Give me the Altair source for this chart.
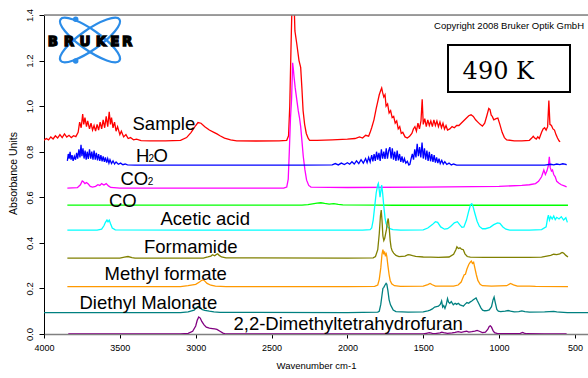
import altair as alt
import pandas as pd

# ---------------------------------------------------------------------------
# IR absorbance spectra (wavenumber cm-1, absorbance units), stacked with offsets
# ---------------------------------------------------------------------------
SAMPLE = [
    (4000, 0.850), (3985, 0.858), (3970, 0.852), (3955, 0.865), (3940, 0.856), (3925, 0.870),
    (3910, 0.860), (3895, 0.875), (3880, 0.862), (3865, 0.878), (3850, 0.864), (3835, 0.872),
    (3820, 0.862), (3805, 0.870), (3790, 0.866), (3775, 0.885), (3765, 0.930), (3755, 0.905),
    (3745, 0.965), (3738, 0.920), (3730, 0.950), (3720, 0.910), (3712, 0.935), (3700, 0.900),
    (3690, 0.925), (3680, 0.895), (3670, 0.915), (3660, 0.890), (3650, 0.920), (3640, 0.895),
    (3630, 0.930), (3620, 0.900), (3610, 0.940), (3600, 0.905), (3590, 0.955), (3580, 0.910),
    (3570, 0.975), (3562, 0.920), (3555, 0.950), (3545, 0.905), (3535, 0.930), (3525, 0.890),
    (3515, 0.910), (3500, 0.875), (3490, 0.890), (3475, 0.865), (3460, 0.875), (3445, 0.858),
    (3430, 0.862), (3410, 0.852), (3390, 0.855), (3360, 0.849), (3300, 0.848), (3200, 0.848),
    (3100, 0.850), (3060, 0.862), (3030, 0.885), (3000, 0.915), (2985, 0.928), (2965, 0.925),
    (2940, 0.910), (2910, 0.895), (2880, 0.885), (2860, 0.878), (2840, 0.870), (2810, 0.860),
    (2770, 0.852), (2730, 0.848), (2600, 0.847), (2450, 0.848), (2400, 0.850), (2388, 0.870),
    (2380, 1.000), (2372, 1.250), (2365, 1.450), (2358, 1.520), (2350, 1.420), (2346, 1.330),
    (2334, 1.275), (2319, 1.200), (2308, 1.170), (2300, 1.080), (2292, 0.980), (2282, 0.920),
    (2271, 0.880), (2258, 0.858), (2249, 0.850), (2200, 0.850), (2100, 0.852), (2000, 0.855),
    (1950, 0.858), (1920, 0.865), (1900, 0.860), (1880, 0.872), (1860, 0.868), (1850, 0.885),
    (1840, 0.905), (1825, 0.940), (1810, 0.990), (1800, 1.020), (1790, 1.050), (1780, 1.070),
    (1774, 1.080), (1768, 1.060), (1760, 1.040), (1752, 1.050), (1745, 1.000), (1735, 1.010),
    (1725, 0.970), (1715, 0.980), (1705, 0.950), (1695, 0.955), (1685, 0.925), (1675, 0.935),
    (1665, 0.900), (1655, 0.910), (1645, 0.880), (1635, 0.885), (1620, 0.865), (1605, 0.860),
    (1590, 0.868), (1575, 0.880), (1565, 0.900), (1555, 0.910), (1545, 0.890), (1535, 0.925),
    (1525, 0.900), (1515, 0.935), (1507, 1.030), (1500, 0.920), (1490, 0.945), (1480, 0.910),
    (1470, 0.940), (1460, 0.915), (1450, 0.935), (1440, 0.910), (1430, 0.940), (1420, 0.915),
    (1410, 0.935), (1400, 0.910), (1390, 0.930), (1380, 0.905), (1370, 0.925), (1360, 0.900),
    (1350, 0.915), (1340, 0.895), (1325, 0.900), (1310, 0.910), (1295, 0.905), (1280, 0.915),
    (1265, 0.915), (1250, 0.925), (1235, 0.935), (1220, 0.945), (1200, 0.958), (1185, 0.962),
    (1170, 0.955), (1155, 0.940), (1140, 0.930), (1125, 0.920), (1110, 0.912), (1095, 0.925),
    (1080, 0.960), (1068, 0.990), (1060, 0.985), (1052, 0.960), (1045, 0.955), (1035, 0.940),
    (1020, 0.945), (1008, 0.948), (995, 0.920), (980, 0.885), (965, 0.862), (950, 0.852),
    (900, 0.848), (850, 0.848), (800, 0.850), (785, 0.860), (775, 0.868), (765, 0.860),
    (755, 0.855), (745, 0.865), (735, 0.858), (720, 0.885), (710, 0.900), (700, 0.905),
    (690, 0.895), (680, 0.910), (672, 1.025), (665, 0.920), (655, 0.915), (645, 0.900),
    (635, 0.895), (625, 0.875), (615, 0.860), (605, 0.848), (598, 0.843),
]

H2O = [
    (3846, 0.760), (3840, 0.790), (3834, 0.770), (3828, 0.800), (3822, 0.765), (3815, 0.785),
    (3808, 0.760), (3800, 0.780), (3792, 0.765), (3785, 0.795), (3778, 0.770), (3770, 0.810),
    (3763, 0.775), (3756, 0.830), (3750, 0.780), (3743, 0.815), (3736, 0.770), (3729, 0.805),
    (3722, 0.765), (3715, 0.800), (3708, 0.768), (3700, 0.810), (3692, 0.770), (3685, 0.800),
    (3677, 0.765), (3670, 0.805), (3662, 0.765), (3655, 0.795), (3647, 0.762), (3640, 0.790),
    (3632, 0.760), (3625, 0.785), (3617, 0.758), (3610, 0.780), (3602, 0.755), (3595, 0.775),
    (3587, 0.752), (3580, 0.770), (3572, 0.750), (3565, 0.765), (3555, 0.748), (3545, 0.760),
    (3535, 0.746), (3525, 0.755), (3510, 0.745), (3495, 0.750), (3480, 0.743), (3465, 0.746),
    (3450, 0.742), (3400, 0.741), (2300, 0.741), (2100, 0.742), (2080, 0.748), (2060, 0.742),
    (2040, 0.750), (2020, 0.744), (2000, 0.752), (1985, 0.745), (1970, 0.756), (1955, 0.746),
    (1940, 0.760), (1925, 0.748), (1910, 0.765), (1895, 0.750), (1880, 0.770), (1870, 0.752),
    (1860, 0.775), (1850, 0.755), (1840, 0.785), (1832, 0.758), (1824, 0.790), (1816, 0.760),
    (1808, 0.800), (1800, 0.765), (1792, 0.795), (1784, 0.760), (1776, 0.810), (1768, 0.770),
    (1760, 0.800), (1752, 0.768), (1744, 0.815), (1736, 0.770), (1728, 0.805), (1720, 0.820),
    (1712, 0.770), (1704, 0.815), (1696, 0.765), (1688, 0.800), (1680, 0.760), (1672, 0.805),
    (1664, 0.762), (1656, 0.790), (1648, 0.755), (1640, 0.780), (1632, 0.752), (1624, 0.770),
    (1615, 0.750), (1605, 0.758), (1595, 0.742), (1588, 0.745), (1580, 0.770), (1572, 0.790),
    (1564, 0.765), (1556, 0.810), (1548, 0.775), (1540, 0.835), (1532, 0.780), (1524, 0.820),
    (1516, 0.775), (1508, 0.840), (1500, 0.770), (1492, 0.815), (1484, 0.765), (1476, 0.805),
    (1468, 0.760), (1460, 0.800), (1452, 0.758), (1444, 0.790), (1436, 0.755), (1428, 0.785),
    (1420, 0.752), (1412, 0.775), (1404, 0.750), (1396, 0.770), (1388, 0.748), (1378, 0.762),
    (1368, 0.746), (1358, 0.756), (1345, 0.744), (1330, 0.750), (1315, 0.742), (1300, 0.746),
    (1280, 0.741), (1000, 0.741), (700, 0.741), (660, 0.745), (640, 0.742), (620, 0.746),
    (600, 0.743), (580, 0.747), (560, 0.744), (555, 0.742),
]

CO2 = [
    (3846, 0.640), (3780, 0.642), (3760, 0.655), (3748, 0.672), (3740, 0.668), (3730, 0.660),
    (3720, 0.665), (3708, 0.658), (3695, 0.648), (3680, 0.645), (3660, 0.648), (3645, 0.655),
    (3632, 0.652), (3620, 0.660), (3605, 0.654), (3590, 0.660), (3575, 0.650), (3560, 0.643),
    (3500, 0.640), (2420, 0.640), (2400, 0.645), (2390, 0.680), (2383, 0.800), (2375, 0.950),
    (2368, 1.030), (2361, 1.190), (2356, 1.160), (2352, 1.130), (2344, 1.080), (2334, 1.030),
    (2324, 0.980), (2316, 0.950), (2308, 0.910), (2300, 0.850), (2291, 0.780), (2280, 0.720),
    (2269, 0.675), (2255, 0.652), (2240, 0.645), (2000, 0.643), (1500, 0.645), (1000, 0.648),
    (850, 0.652), (800, 0.655), (760, 0.660), (740, 0.670), (720, 0.690), (705, 0.720),
    (695, 0.700), (685, 0.715), (675, 0.740), (669, 0.778), (663, 0.730), (655, 0.715),
    (648, 0.720), (640, 0.700), (630, 0.690), (620, 0.670), (605, 0.662), (590, 0.655),
    (570, 0.650), (555, 0.646),
]

CO = [
    (3846, 0.566), (2300, 0.566), (2260, 0.568), (2230, 0.571), (2200, 0.574), (2175, 0.576),
    (2150, 0.573), (2120, 0.570), (2090, 0.572), (2060, 0.569), (2030, 0.567), (1800, 0.566),
    (1700, 0.565), (546, 0.565),
]

ACETIC_ACID = [
    (3846, 0.456), (3650, 0.456), (3620, 0.460), (3605, 0.475), (3595, 0.490), (3585, 0.500),
    (3578, 0.492), (3570, 0.500), (3562, 0.485), (3550, 0.465), (3530, 0.457), (3000, 0.456),
    (2500, 0.456), (1900, 0.456), (1850, 0.458), (1840, 0.465), (1830, 0.500), (1820, 0.560),
    (1810, 0.620), (1800, 0.655), (1796, 0.661), (1790, 0.630), (1785, 0.600), (1780, 0.625),
    (1774, 0.654), (1768, 0.620), (1760, 0.560), (1752, 0.510), (1745, 0.485), (1735, 0.470),
    (1720, 0.462), (1700, 0.458), (1650, 0.456), (1500, 0.457), (1470, 0.465), (1440, 0.480),
    (1420, 0.493), (1405, 0.490), (1385, 0.470), (1360, 0.460), (1340, 0.462), (1320, 0.472),
    (1295, 0.488), (1275, 0.493), (1260, 0.480), (1245, 0.468), (1232, 0.470), (1215, 0.500),
    (1200, 0.540), (1188, 0.568), (1180, 0.572), (1172, 0.560), (1160, 0.530), (1145, 0.495),
    (1130, 0.472), (1110, 0.462), (1090, 0.462), (1060, 0.468), (1035, 0.480), (1010, 0.488),
    (995, 0.486), (975, 0.470), (955, 0.460), (930, 0.456), (800, 0.456), (720, 0.458),
    (690, 0.470), (680, 0.510), (675, 0.522), (668, 0.500), (660, 0.515), (650, 0.505),
    (640, 0.518), (630, 0.502), (620, 0.512), (605, 0.505), (590, 0.515), (575, 0.500),
    (560, 0.510), (550, 0.490),
]

FORMAMIDE = [
    (3846, 0.333), (3500, 0.333), (3470, 0.337), (3446, 0.340), (3420, 0.335), (3400, 0.333),
    (2950, 0.333), (2920, 0.338), (2900, 0.342), (2889, 0.348), (2875, 0.343), (2862, 0.350),
    (2855, 0.352), (2845, 0.345), (2830, 0.338), (2800, 0.334), (2000, 0.333), (1830, 0.334),
    (1815, 0.340), (1800, 0.370), (1790, 0.440), (1782, 0.520), (1777, 0.544), (1772, 0.500),
    (1766, 0.430), (1760, 0.410), (1754, 0.420), (1748, 0.440), (1742, 0.460), (1737, 0.490),
    (1731, 0.507), (1725, 0.470), (1718, 0.410), (1712, 0.380), (1705, 0.365), (1695, 0.355),
    (1680, 0.345), (1660, 0.340), (1620, 0.342), (1600, 0.348), (1588, 0.347), (1570, 0.344),
    (1550, 0.341), (1500, 0.338), (1450, 0.337), (1400, 0.336), (1330, 0.338), (1300, 0.350),
    (1285, 0.370), (1278, 0.383), (1268, 0.375), (1258, 0.378), (1248, 0.372), (1236, 0.370),
    (1225, 0.352), (1210, 0.340), (1190, 0.337), (1100, 0.336), (800, 0.336), (720, 0.337),
    (660, 0.345), (640, 0.350), (620, 0.348), (600, 0.352), (585, 0.358), (575, 0.355),
    (560, 0.345), (546, 0.338),
]

METHYL_FORMATE = [
    (3846, 0.208), (3100, 0.208), (3050, 0.212), (3000, 0.218), (2975, 0.228), (2960, 0.236),
    (2950, 0.238), (2940, 0.232), (2925, 0.222), (2900, 0.214), (2870, 0.210), (2800, 0.208),
    (2000, 0.208), (1820, 0.209), (1800, 0.215), (1790, 0.240), (1780, 0.290), (1772, 0.350),
    (1766, 0.370), (1760, 0.350), (1755, 0.362), (1750, 0.345), (1744, 0.352), (1740, 0.340),
    (1733, 0.300), (1725, 0.260), (1718, 0.235), (1708, 0.220), (1690, 0.212), (1650, 0.209),
    (1500, 0.210), (1470, 0.217), (1455, 0.222), (1440, 0.216), (1420, 0.210), (1300, 0.210),
    (1270, 0.215), (1250, 0.228), (1240, 0.245), (1230, 0.260), (1222, 0.262), (1212, 0.285),
    (1200, 0.305), (1190, 0.315), (1183, 0.320), (1176, 0.310), (1168, 0.315), (1160, 0.290),
    (1150, 0.260), (1140, 0.235), (1125, 0.218), (1110, 0.212), (1050, 0.210), (950, 0.212),
    (925, 0.222), (905, 0.216), (880, 0.210), (800, 0.210), (760, 0.209), (546, 0.208),
]

DIETHYL_MALONATE = [
    (4000, 0.094), (3100, 0.094), (3050, 0.097), (3010, 0.105), (2995, 0.115), (2987, 0.120),
    (2975, 0.117), (2960, 0.108), (2940, 0.104), (2910, 0.100), (2880, 0.097), (2840, 0.095),
    (2000, 0.094), (1800, 0.096), (1790, 0.100), (1780, 0.130), (1772, 0.170), (1766, 0.200),
    (1760, 0.205), (1752, 0.215), (1745, 0.222), (1740, 0.218), (1733, 0.190), (1725, 0.150),
    (1716, 0.128), (1708, 0.118), (1698, 0.105), (1680, 0.098), (1600, 0.096), (1500, 0.097),
    (1470, 0.102), (1455, 0.105), (1440, 0.110), (1425, 0.118), (1412, 0.120), (1400, 0.122),
    (1388, 0.130), (1379, 0.145), (1372, 0.118), (1365, 0.125), (1357, 0.112), (1348, 0.130),
    (1340, 0.155), (1333, 0.140), (1325, 0.135), (1315, 0.142), (1302, 0.128), (1290, 0.135),
    (1280, 0.130), (1269, 0.135), (1258, 0.128), (1245, 0.125), (1236, 0.122), (1225, 0.130),
    (1212, 0.138), (1200, 0.135), (1192, 0.140), (1180, 0.145), (1170, 0.150), (1160, 0.155),
    (1152, 0.158), (1145, 0.148), (1135, 0.135), (1120, 0.115), (1109, 0.105), (1095, 0.102),
    (1080, 0.103), (1065, 0.106), (1050, 0.120), (1040, 0.150), (1033, 0.162), (1026, 0.140),
    (1015, 0.108), (1005, 0.100), (990, 0.098), (960, 0.100), (940, 0.103), (925, 0.100),
    (900, 0.097), (870, 0.098), (850, 0.101), (830, 0.098), (800, 0.096), (700, 0.097),
    (640, 0.099), (620, 0.097), (600, 0.096), (550, 0.094), (414, 0.094),
]

DMTHF = [
    (3840, 0.000), (3100, 0.000), (3050, 0.003), (3020, 0.012), (3000, 0.035), (2990, 0.060),
    (2980, 0.075), (2970, 0.070), (2960, 0.055), (2945, 0.040), (2930, 0.030), (2910, 0.026),
    (2890, 0.024), (2875, 0.022), (2860, 0.020), (2840, 0.012), (2820, 0.004), (2800, 0.000),
    (1500, 0.000), (1480, 0.003), (1460, 0.006), (1440, 0.003), (1420, 0.002), (1390, 0.005),
    (1378, 0.008), (1365, 0.006), (1340, 0.003), (1310, 0.005), (1290, 0.007), (1270, 0.010),
    (1250, 0.007), (1230, 0.010), (1214, 0.012), (1200, 0.008), (1180, 0.010), (1160, 0.013),
    (1145, 0.016), (1130, 0.012), (1110, 0.006), (1090, 0.008), (1075, 0.020), (1065, 0.033),
    (1058, 0.036), (1050, 0.030), (1040, 0.015), (1030, 0.006), (1010, 0.002), (900, 0.001),
    (860, 0.003), (845, 0.007), (835, 0.004), (820, 0.001), (700, 0.000), (555, 0.000),
]

# drawing order (later series on top) and trace colours
SERIES_NAMES = ["Sample", "CO2", "H2O", "CO", "Acetic acid", "Formamide",
                "Methyl formate", "Diethyl Malonate", "2,2-Dimethyltetrahydrofuran"]
SERIES_DATA = [SAMPLE, CO2, H2O, CO, ACETIC_ACID, FORMAMIDE,
               METHYL_FORMATE, DIETHYL_MALONATE, DMTHF]
SERIES_COLORS = ["#ff0000", "#ff00ff", "#0000ff", "#00ff00", "#00ffff", "#808000",
                 "#ff9900", "#008080", "#800080"]

# trace labels (subscripts drawn as smaller separate glyphs)
LABEL_TEXT = ["Sample", "H", "2", "O", "CO", "2", "CO", "Acetic acid", "Formamide",
              "Methyl formate", "Diethyl Malonate", "2,2-Dimethyltetrahydrofuran"]
LABEL_WN = [3416.6, 3393.6, 3311, 3278, 3495.8, 3316, 3571.5, 3232, 3340.8, 3601, 3766, 2751]
LABEL_A = [0.897, 0.7557, 0.7557, 0.7557, 0.6557, 0.6535, 0.5592, 0.4803, 0.3575, 0.239,
           0.1118, 0.0175]
LABEL_SIZE = [18.5, 18.5, 10, 18.5, 18.5, 10, 18.5, 18.5, 18.5, 18.5, 18.5, 18.5]

X_TICKS = [4000, 3500, 3000, 2500, 2000, 1500, 1000, 500]
Y_TICKS = [0.0, 0.2, 0.4, 0.6, 0.8, 1.0, 1.2, 1.4]

# logo letters and their pixel centres inside the plot area
LOGO_LETTERS = ["B", "R", "U", "K", "E", "R"]
LOGO_X = [8.8, 24.9, 40.9, 56.9, 70.9, 83.2]

W, H = 544, 319
FONT = "Liberation Sans"

x_scale = alt.Scale(domain=[4000, 414], nice=False, zero=False)
y_scale = alt.Scale(domain=[0, 1.4], nice=False, zero=False)

x_axis = alt.Axis(
    values=X_TICKS, format="d", title="Wavenumber cm-1", grid=False,
    labelFont=FONT, labelFontSize=9, labelColor="black", labelFlush=False,
    labelOverlap=False, labelPadding=5, tickSize=4, tickColor="black", tickWidth=1,
    domainColor="#808080", domainWidth=1.5,
    titleFont=FONT, titleFontSize=9.5, titleFontWeight="normal", titleColor="black",
    titleY=31, titleBaseline="middle",
)
y_axis = alt.Axis(
    values=Y_TICKS, format=".1f", title="Absorbance Units", grid=False,
    labelFont=FONT, labelFontSize=9.5, labelColor="black", labelFlush=False,
    labelOverlap=False, labelAngle=270, labelAlign="center", labelBaseline="alphabetic",
    labelPadding=7, tickSize=5, tickColor="black", tickWidth=1,
    domainColor="black", domainWidth=1,
    titleFont=FONT, titleFontSize=10.5, titleFontWeight="normal", titleColor="black",
    titleAngle=270, titleX=-31, titleY=158, titleAlign="center", titleBaseline="middle",
)

enc_x = alt.X("wn:Q", scale=x_scale, axis=x_axis)
enc_y = alt.Y("A:Q", scale=y_scale, axis=y_axis)

layers = []
for name, pts, color in zip(SERIES_NAMES, SERIES_DATA, SERIES_COLORS):
    df = pd.DataFrame(pts, columns=["wn", "A"])
    df["series"] = name
    layers.append(
        alt.Chart(df).mark_line(color=color, strokeWidth=1.3, clip=True)
        .encode(x=enc_x, y=enc_y)
    )

labels_df = pd.DataFrame({"text": LABEL_TEXT, "wn": LABEL_WN, "A": LABEL_A, "size": LABEL_SIZE})
labels = alt.Chart(labels_df).mark_text(
    align="left", baseline="alphabetic", font=FONT, color="black"
).encode(
    x=enc_x,
    y=enc_y,
    text="text:N",
    size=alt.Size("size:Q", scale=None, legend=None),
)

one = pd.DataFrame({"k": [0]})

# top frame line
top_rule = alt.Chart(one).mark_rule(color="#808080", strokeWidth=1.5).encode(
    x=alt.value(0), x2=alt.value(W), y=alt.value(0)
)

# Bruker logo: two crossed orbits, two electrons, and the word mark
ELLIPSE = "M -1 0 A 1 0.28 0 1 1 1 0 A 1 0.28 0 1 1 -1 0 Z"
orbit_a = alt.Chart(one).mark_point(
    shape=ELLIPSE, size=5184, angle=35, filled=False, stroke="#2b8ce8", strokeWidth=2.2, opacity=1
).encode(x=alt.value(46), y=alt.value(25))
orbit_b = alt.Chart(one).mark_point(
    shape=ELLIPSE, size=5184, angle=325, filled=False, stroke="#2b8ce8", strokeWidth=2.2, opacity=1
).encode(x=alt.value(46), y=alt.value(25))
electrons = alt.Chart(pd.DataFrame({"px": [31.7, 31.7], "py": [4.3, 46.0]})).mark_point(
    shape="circle", size=30, filled=True, color="#2b8ce8", opacity=1
).encode(x=alt.X("px:Q", scale=None, axis=None), y=alt.Y("py:Q", scale=None, axis=None))
logo_text = alt.Chart(pd.DataFrame({"t": LOGO_LETTERS, "px": LOGO_X})).mark_text(
    font="DejaVu Sans", fontWeight="bold", fontSize=13.5, color="black",
    stroke="black", strokeWidth=1.3, align="center", baseline="alphabetic"
).encode(x=alt.X("px:Q", scale=None, axis=None), y=alt.value(30.7), text="t:N")

copyright_text = alt.Chart(one).mark_text(
    text="Copyright 2008 Bruker Optik GmbH", font=FONT, fontSize=9.5, color="black",
    align="right", baseline="alphabetic"
).encode(x=alt.value(540), y=alt.value(14.3))

temp_box = alt.Chart(one).mark_rect(fill="white", stroke="black", strokeWidth=2).encode(
    x=alt.value(404), x2=alt.value(526), y=alt.value(30), y2=alt.value(77)
)
temp_text = alt.Chart(one).mark_text(
    text="490 K", font="DejaVu Serif", fontSize=24, color="black",
    align="center", baseline="alphabetic"
).encode(x=alt.value(454.3), y=alt.value(64))

chart = alt.layer(
    *layers, labels, top_rule, orbit_a, orbit_b, electrons, logo_text,
    copyright_text, temp_box, temp_text
).properties(
    width=W, height=H,
    padding={"left": 44, "top": 15, "right": 0, "bottom": 44},
    autosize=alt.AutoSizeParams(type="none"),
).configure_view(strokeWidth=0).configure(background="white")

chart.save("out.html", embed_options={"renderer": "svg", "actions": False})
